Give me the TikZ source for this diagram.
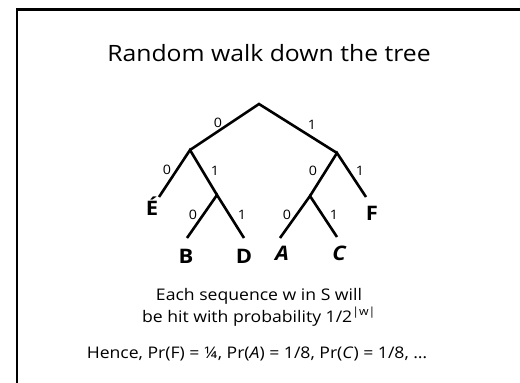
\documentclass[tikz,border=0pt]{standalone}
\usepackage{fontspec}
\setmainfont{Open Sans}[FakeStretch=1.1]
\usepackage{tikz}
\tikzset{every picture/.append style={font=\fontsize{16}{19}\selectfont}}
\definecolor{figink}{HTML}{000000}

\begin{document}
\begin{tikzpicture}[x=1pt,y=-1pt,
    branch/.style={figink,line width=2.6pt,line join=miter},
    bit/.style={font=\fontsize{13}{13}\selectfont,inner sep=0pt},
    leaf/.style={font=\fontsize{20}{20}\selectfont\bfseries,inner sep=0pt,anchor=base}]
    \useasboundingbox (0,0) rectangle (520,383);
    \draw[figink,line width=2.2pt] (17,383) -- (17,9.5) -- (520,9.5);
    \node[anchor=base,font=\fontsize{22.5}{25}\selectfont] (title) at (269,61) {Random walk down the tree};

    % tree points
    \coordinate (root) at (259,104);
    \coordinate (n0) at (190,150);
    \coordinate (n1) at (337,153);
    \coordinate (n01) at (217,195);
    \coordinate (n10) at (310,196);
    \coordinate (eE) at (159,197);
    \coordinate (eB) at (187,238);
    \coordinate (eD) at (244,238);
    \coordinate (eA) at (280,238);
    \coordinate (eC) at (337,237);
    \coordinate (eF) at (366,197);

    \draw[branch] (n0) -- (root) -- (n1);
    \draw[branch] (eE) -- (n0) -- (n01);
    \draw[branch] (eB) -- (n01) -- (eD);
    \draw[branch] (n10) -- (n1) -- (eF);
    \draw[branch] (eA) -- (n10) -- (eC);

    \node[bit] (b0) at (218,123) {0};
    \node[bit] (b1) at (312,125) {1};
    \node[bit] (b00) at (167,170) {0};
    \node[bit] (b01) at (215,171) {1};
    \node[bit] (b10) at (313,171) {0};
    \node[bit] (b11) at (360,171) {1};
    \node[bit] (b010) at (193,215) {0};
    \node[bit] (b011) at (242,215) {1};
    \node[bit] (b100) at (287,215) {0};
    \node[bit] (b101) at (334,215) {1};

    \node[leaf] (lE) at (152,215) {É};
    \node[leaf] (lB) at (186,263) {B};
    \node[leaf] (lD) at (244,263) {D};
    \node[leaf] (lA) at (282,260) {\itshape A};
    \node[leaf] (lC) at (339,260) {\itshape C};
    \node[leaf] (lF) at (372,220) {F};

    \node[anchor=base] (say1) at (259,300) {Each sequence w in S will};
    \node[anchor=base] (say2) at (259,322) {be hit with probability 1/2\textsuperscript{|w|}};
    \node[anchor=base] (hence) at (257,358) {Hence, Pr(F) = ¼, Pr(\textit{A}) = 1/8, Pr(\textit{C}) = 1/8, …};
\end{tikzpicture}
\end{document}
